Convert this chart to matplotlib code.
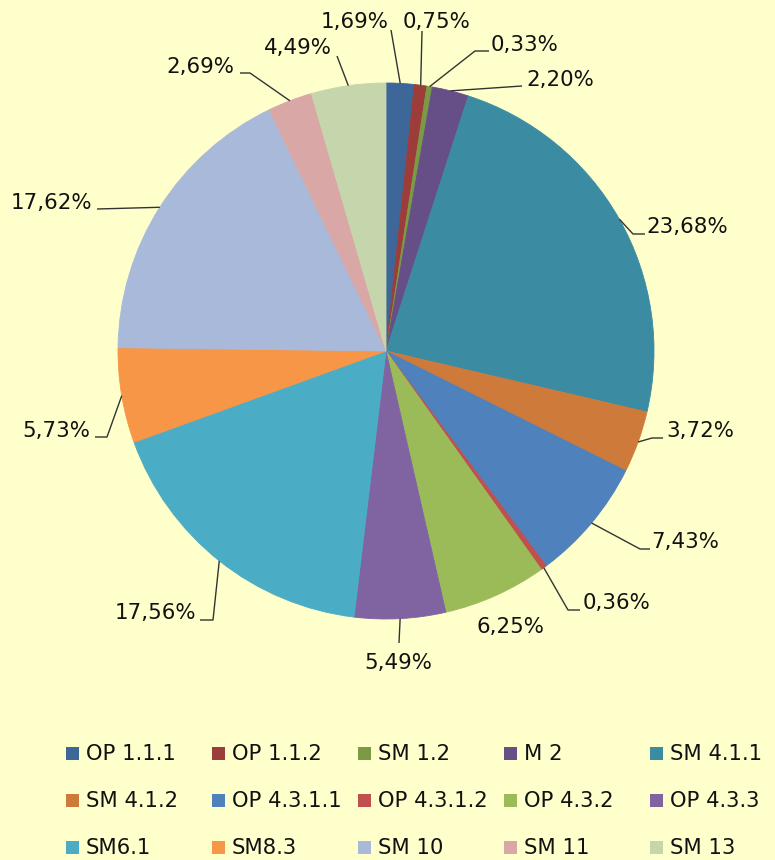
import numpy as np
import matplotlib
matplotlib.use("Agg")
import matplotlib.pyplot as plt
from matplotlib.patches import Rectangle

# ---- data ----
categories = ["OP 1.1.1", "OP 1.1.2", "SM 1.2", "M 2", "SM 4.1.1",
              "SM 4.1.2", "OP 4.3.1.1", "OP 4.3.1.2", "OP 4.3.2", "OP 4.3.3",
              "SM6.1", "SM8.3", "SM 10", "SM 11", "SM 13"]
values = [1.69, 0.75, 0.33, 2.20, 23.68,
          3.72, 7.43, 0.36, 6.25, 5.49,
          17.56, 5.73, 17.62, 2.69, 4.49]
pct_labels = ["1,69%", "0,75%", "0,33%", "2,20%", "23,68%",
              "3,72%", "7,43%", "0,36%", "6,25%", "5,49%",
              "17,56%", "5,73%", "17,62%", "2,69%", "4,49%"]

# ---- styles ----
colors = ["#3D6699", "#9C3D3A", "#7A9A46", "#664E87", "#3B8BA3",
          "#CD7A3A", "#4F81BD", "#C0504D", "#9BBB59", "#8064A2",
          "#4BACC6", "#F79646", "#A9B9DA", "#D9A7A6", "#C6D6AC"]
BG = "#FFFFCC"
W, H = 775, 860

# layout (pixel coords, origin top-left)
CX, CY, R = 386, 351, 268
label_centers = [(355, 22), (436, 22), (524, 45), (560, 80), (687, 227),
                 (700, 431), (685, 542), (616, 603), (510, 627), (398, 663),
                 (155, 613), (56, 431), (51, 203), (200, 67), (298, 48)]
# leader paths after the wedge edge point (None = no leader)
leader_paths = [[(391, 30)], [(422, 31)], [(475, 51), (489, 51)], [(522, 86)],
                [(633, 234), (645, 234)], [(652, 438), (663, 438)],
                [(640, 549), (650, 549)], [(568, 610), (580, 610)], None,
                [(399, 643)], [(213, 620), (200, 620)], [(107, 437), (95, 437)],
                [(97, 209)], [(250, 73), (240, 73)], [(337, 56)]]


def P(x, y):
    return x, H - y


fig = plt.figure(figsize=(W / 100, H / 100), dpi=100, facecolor=BG)
ax = fig.add_axes([0, 0, 1, 1])
ax.set_facecolor(BG)

wedges, _ = ax.pie(values, colors=colors, startangle=90, counterclock=False,
                   center=P(CX, CY), radius=R,
                   wedgeprops=dict(linewidth=0.6, edgecolor=None))
for w in wedges:
    w.set_edgecolor(w.get_facecolor())

ax.set_xlim(0, W)
ax.set_ylim(0, H)
ax.set_aspect("equal")
ax.axis("off")

for w, lab, (tx, ty), path in zip(wedges, pct_labels, label_centers, leader_paths):
    mid = np.deg2rad((w.theta1 + w.theta2) / 2)
    ex = CX + R * np.cos(mid)
    ey = CY - R * np.sin(mid)
    if path is not None:
        pts = [(ex, ey)] + path
        xs = [p[0] for p in pts]
        ys = [H - p[1] for p in pts]
        ax.plot(xs, ys, color="#333333", lw=1.0, solid_capstyle="butt")
    ax.text(*P(tx, ty), lab, ha="center", va="center", fontsize=15.4,
            family="DejaVu Sans", color="#111111")

# legend (uniform grid, row-wise like the original)
ncol = 5
for i, (cat, col) in enumerate(zip(categories, colors)):
    r, c = divmod(i, ncol)
    mx = 72 + 146 * c
    my = 753 + 47 * r
    fig.patches.append(Rectangle(((mx - 6.5) / W, 1 - (my + 6.5) / H), 13 / W, 13 / H,
                                 transform=fig.transFigure, facecolor=col,
                                 edgecolor="none"))
    fig.text((mx + 14) / W, 1 - (my + 1) / H, cat, ha="left", va="center",
             fontsize=15.2, family="DejaVu Sans", color="#111111")

fig.savefig("out.png", dpi=100, facecolor=BG)
